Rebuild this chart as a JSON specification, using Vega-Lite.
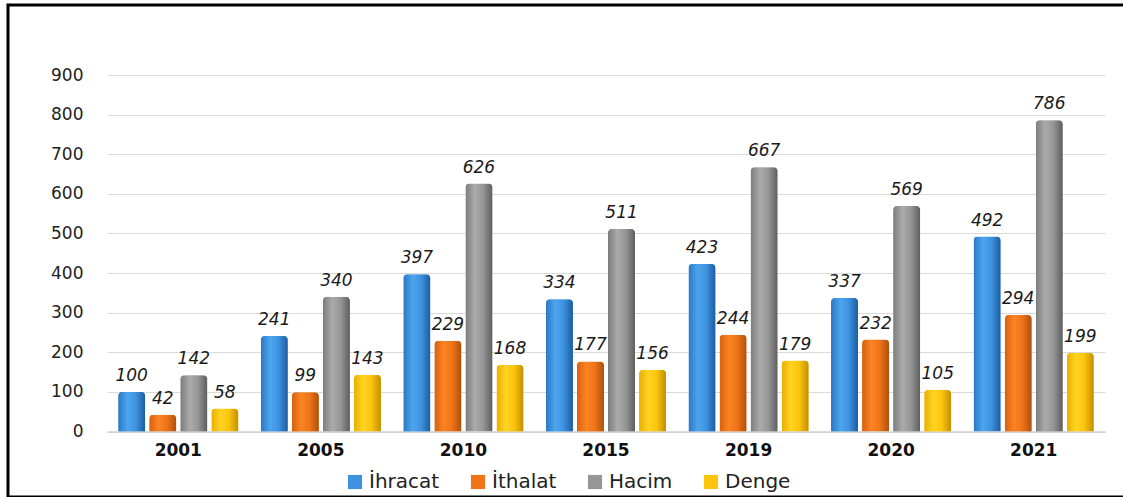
{
  "$schema": "https://vega.github.io/schema/vega-lite/v6.json",
  "autosize": "none",
  "padding": {"left": 8, "top": 5, "right": 0, "bottom": 0},
  "width": 1118,
  "height": 492,
  "background": "#ffffff",
  "config": {
    "view": {"stroke": "#000000", "strokeWidth": 3},
    "font": "DejaVu Sans"
  },
  "data": {
    "values": [
      {"yil": "2001", "seri": "İhracat", "deger": 100},
      {"yil": "2001", "seri": "İthalat", "deger": 42},
      {"yil": "2001", "seri": "Hacim", "deger": 142},
      {"yil": "2001", "seri": "Denge", "deger": 58},
      {"yil": "2005", "seri": "İhracat", "deger": 241},
      {"yil": "2005", "seri": "İthalat", "deger": 99},
      {"yil": "2005", "seri": "Hacim", "deger": 340},
      {"yil": "2005", "seri": "Denge", "deger": 143},
      {"yil": "2010", "seri": "İhracat", "deger": 397},
      {"yil": "2010", "seri": "İthalat", "deger": 229},
      {"yil": "2010", "seri": "Hacim", "deger": 626},
      {"yil": "2010", "seri": "Denge", "deger": 168},
      {"yil": "2015", "seri": "İhracat", "deger": 334},
      {"yil": "2015", "seri": "İthalat", "deger": 177},
      {"yil": "2015", "seri": "Hacim", "deger": 511},
      {"yil": "2015", "seri": "Denge", "deger": 156},
      {"yil": "2019", "seri": "İhracat", "deger": 423},
      {"yil": "2019", "seri": "İthalat", "deger": 244},
      {"yil": "2019", "seri": "Hacim", "deger": 667},
      {"yil": "2019", "seri": "Denge", "deger": 179},
      {"yil": "2020", "seri": "İhracat", "deger": 337},
      {"yil": "2020", "seri": "İthalat", "deger": 232},
      {"yil": "2020", "seri": "Hacim", "deger": 569},
      {"yil": "2020", "seri": "Denge", "deger": 105},
      {"yil": "2021", "seri": "İhracat", "deger": 492},
      {"yil": "2021", "seri": "İthalat", "deger": 294},
      {"yil": "2021", "seri": "Hacim", "deger": 786},
      {"yil": "2021", "seri": "Denge", "deger": 199}
    ]
  },
  "encoding": {
    "x": {
      "field": "yil",
      "type": "nominal",
      "sort": null,
      "title": null,
      "scale": {"range": [99, 1097], "paddingInner": 0.157, "paddingOuter": 0.0785},
      "axis": {
        "orient": "bottom",
        "offset": -65.5,
        "labelAngle": 0,
        "labelFont": "DejaVu Sans",
        "labelFontWeight": "bold",
        "labelFontSize": 17,
        "labelColor": "#111111",
        "labelPadding": 11,
        "ticks": false,
        "tickSize": 0,
        "domain": true,
        "domainColor": "#d0d0d0",
        "domainWidth": 1.5,
        "grid": false
      }
    },
    "xOffset": {
      "field": "seri",
      "type": "nominal",
      "sort": ["İhracat", "İthalat", "Hacim", "Denge"],
      "scale": {"paddingInner": 0.13, "paddingOuter": 0}
    },
    "y": {
      "field": "deger",
      "type": "quantitative",
      "title": null,
      "scale": {"domain": [0, 900], "range": [426.5, 70], "nice": false, "zero": true},
      "axis": {
        "orient": "left",
        "offset": -80,
        "values": [0, 100, 200, 300, 400, 500, 600, 700, 800, 900],
        "labelFont": "DejaVu Sans",
        "labelFontSize": 17,
        "labelColor": "#222222",
        "labelPadding": 5,
        "ticks": false,
        "tickSize": 0,
        "domain": false,
        "grid": true,
        "gridColor": "#dadada",
        "gridWidth": 1
      }
    }
  },
  "layer": [
    {
      "mark": {"type": "bar", "cornerRadiusTopLeft": 4, "cornerRadiusTopRight": 4},
      "encoding": {
        "color": {
          "field": "seri",
          "type": "nominal",
          "sort": ["İhracat", "İthalat", "Hacim", "Denge"],
          "scale": {
            "domain": ["İhracat", "İthalat", "Hacim", "Denge"],
            "range": ["#3d93e0", "#ef7418", "#969696", "#fcc40c"]
          },
          "legend": {
            "title": null,
            "orient": "none",
            "direction": "horizontal",
            "legendX": 337,
            "legendY": 467,
            "symbolType": "square",
            "symbolSize": 200,
            "symbolStrokeWidth": 0,
            "symbolOpacity": 1,
            "labelFont": "DejaVu Sans",
            "labelFontSize": 20,
            "labelColor": "#222222",
            "labelOffset": 4,
            "columnPadding": 28
          }
        }
      }
    },
    {
      "mark": {"type": "bar", "cornerRadiusTopLeft": 4, "cornerRadiusTopRight": 4},
      "encoding": {
        "fill": {
          "condition": [
            {"test": "datum.seri === 'İhracat'", "value": {"gradient": "linear", "x1": 0, "x2": 1, "y1": 0, "y2": 0, "stops": [
              {"offset": 0, "color": "#2a77c4"},
              {"offset": 0.35, "color": "#4ea5ee"},
              {"offset": 0.65, "color": "#3d93e0"},
              {"offset": 1, "color": "#1d5c9f"}
            ]}},
            {"test": "datum.seri === 'İthalat'", "value": {"gradient": "linear", "x1": 0, "x2": 1, "y1": 0, "y2": 0, "stops": [
              {"offset": 0, "color": "#d9600e"},
              {"offset": 0.35, "color": "#fb8424"},
              {"offset": 0.65, "color": "#ef7418"},
              {"offset": 1, "color": "#b0500c"}
            ]}},
            {"test": "datum.seri === 'Hacim'", "value": {"gradient": "linear", "x1": 0, "x2": 1, "y1": 0, "y2": 0, "stops": [
              {"offset": 0, "color": "#7c7c7c"},
              {"offset": 0.35, "color": "#ababab"},
              {"offset": 0.65, "color": "#969696"},
              {"offset": 1, "color": "#5e5e5e"}
            ]}}
          ],
          "value": {"gradient": "linear", "x1": 0, "x2": 1, "y1": 0, "y2": 0, "stops": [
            {"offset": 0, "color": "#e8b000"},
            {"offset": 0.35, "color": "#ffd422"},
            {"offset": 0.65, "color": "#fcc40c"},
            {"offset": 1, "color": "#c09000"}
          ]}
        }
      }
    },
    {
      "mark": {
        "type": "text",
        "baseline": "alphabetic",
        "align": "center",
        "dy": -11,
        "font": "DejaVu Sans",
        "fontStyle": "italic",
        "fontSize": 17,
        "color": "#1a1a1a"
      },
      "encoding": {
        "text": {"field": "deger", "type": "quantitative"}
      }
    }
  ]
}
